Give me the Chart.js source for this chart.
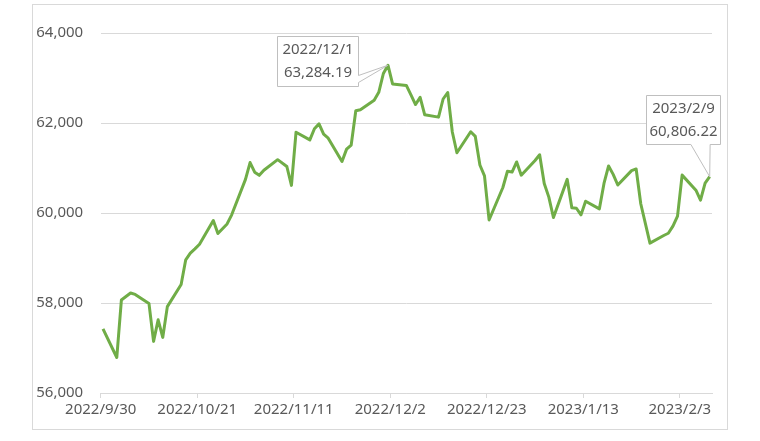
<!DOCTYPE html>
<html>
<head>
<meta charset="utf-8">
<script src="https://cdn.jsdelivr.net/npm/chart.js@4"></script>
<style>
  html, body { margin: 0; padding: 0; background: #fff; }
</style>
</head>
<body>
<canvas id="myChart" width="760" height="441"></canvas>
<script>
// daily closes
const dates = [
  '2022/9/30',
  '2022/10/3', '2022/10/4', '2022/10/6', '2022/10/7', '2022/10/10', '2022/10/11', '2022/10/12', '2022/10/13', '2022/10/14',
  '2022/10/17', '2022/10/18', '2022/10/19', '2022/10/20', '2022/10/21', '2022/10/24', '2022/10/25', '2022/10/27', '2022/10/28', '2022/10/31',
  '2022/11/1', '2022/11/2', '2022/11/3', '2022/11/4', '2022/11/7', '2022/11/9', '2022/11/10', '2022/11/11', '2022/11/14', '2022/11/15',
  '2022/11/16', '2022/11/17', '2022/11/18', '2022/11/21', '2022/11/22', '2022/11/23', '2022/11/24', '2022/11/25', '2022/11/28', '2022/11/29', '2022/11/30',
  '2022/12/1', '2022/12/2', '2022/12/5', '2022/12/6', '2022/12/7', '2022/12/8', '2022/12/9', '2022/12/12', '2022/12/13', '2022/12/14',
  '2022/12/15', '2022/12/16', '2022/12/19', '2022/12/20', '2022/12/21', '2022/12/22', '2022/12/23', '2022/12/26', '2022/12/27', '2022/12/28',
  '2022/12/29', '2022/12/30',
  '2023/1/2', '2023/1/3', '2023/1/4', '2023/1/5', '2023/1/6', '2023/1/9', '2023/1/10', '2023/1/11', '2023/1/12', '2023/1/13',
  '2023/1/16', '2023/1/17', '2023/1/18', '2023/1/19', '2023/1/20', '2023/1/23', '2023/1/24', '2023/1/25', '2023/1/27', '2023/1/30', '2023/1/31',
  '2023/2/1', '2023/2/2', '2023/2/3', '2023/2/6', '2023/2/7', '2023/2/8', '2023/2/9'
];

const closes = [
  57426.92,
  56788.81, 58065.47, 58222.10, 58191.29, 57991.11, 57147.32, 57625.91, 57235.33, 57919.97,
  58410.98, 58960.60, 59107.19, 59202.90, 59307.15, 59831.66, 59543.96, 59756.84, 59959.85, 60746.59,
  61121.35, 60906.09, 60836.41, 60950.36, 61185.15, 61033.55, 60613.70, 61795.04, 61624.15, 61872.99,
  61980.72, 61750.60, 61663.48, 61144.84, 61418.96, 61510.58, 62272.68, 62293.64, 62504.80, 62681.84, 63099.65,
  63284.19, 62868.50, 62834.60, 62626.36, 62410.68, 62570.68, 62181.67, 62130.57, 62533.30, 62677.91,
  61799.03, 61337.81, 61806.19, 61702.29, 61067.24, 60826.22, 59845.29, 60566.42, 60927.43, 60910.28,
  61133.88, 60840.74,
  61167.79, 61294.20, 60657.45, 60353.27, 59900.37, 60747.31, 60115.48, 60105.50, 59958.03, 60261.18,
  60092.97, 60655.72, 61045.74, 60858.43, 60621.77, 60941.67, 60978.75, 60205.06, 59330.90, 59500.41, 59549.90,
  59708.08, 59932.24, 60841.88, 60506.90, 60286.04, 60663.79, 60806.22
];

const tickLabels = ['2022/9/30', '2022/10/21', '2022/11/11', '2022/12/2', '2022/12/23', '2023/1/13', '2023/2/3'];

const calloutDates = ['2022/12/1', '2023/2/9'];

const fontFamily = 'Noto Sans';
const textColor = '#595959';
const lineColor = '#d9d9d9';

function dayNo(s) {
  const p = s.split('/');
  const p0 = dates[0].split('/');
  return Math.round((Date.UTC(+p[0], p[1] - 1, +p[2]) - Date.UTC(+p0[0], p0[1] - 1, +p0[2])) / 86400000);
}

// points sit in the middle of their day
const points = dates.map((d, i) => ({ x: dayNo(d) + 0.5, y: closes[i] }));

// box placement relative to the point
const calloutBoxes = [
  { dx: -111, dy: -29.5, w: 81, h: 50, side: 'right', a: 0.78, b: 0.92 },
  { dx: -64, dy: -81.5, w: 74, h: 49, side: 'bottom', a: 0.6, b: 0.86 }
];

const background = {
  id: 'background',
  beforeDraw(chart) {
    const ctx = chart.ctx;
    ctx.save();
    ctx.fillStyle = '#fff';
    ctx.fillRect(0, 0, chart.width, chart.height);
    ctx.strokeStyle = lineColor;
    ctx.lineWidth = 1;
    ctx.strokeRect(32.5, 4.5, 695, 425);
    ctx.restore();
  }
};

const callouts = {
  id: 'callouts',
  afterDraw(chart) {
    const ctx = chart.ctx;
    const xs = chart.scales.x, ys = chart.scales.y;
    calloutDates.forEach((d, k) => {
      const i = dates.indexOf(d);
      const px = xs.getPixelForValue(points[i].x);
      const py = ys.getPixelForValue(points[i].y);
      const c = calloutBoxes[k];
      const l = Math.round(px + c.dx) + 0.5, t = Math.round(py + c.dy) + 0.5;
      const r = l + c.w, b = t + c.h;
      ctx.save();
      ctx.beginPath();
      ctx.moveTo(l, t);
      ctx.lineTo(r, t);
      if (c.side === 'right') {
        ctx.lineTo(r, t + c.h * c.a);
        ctx.lineTo(px, py);
        ctx.lineTo(r, t + c.h * c.b);
        ctx.lineTo(r, b);
        ctx.lineTo(l, b);
      } else {
        ctx.lineTo(r, b);
        ctx.lineTo(l + c.w * c.b, b);
        ctx.lineTo(px, py);
        ctx.lineTo(l + c.w * c.a, b);
        ctx.lineTo(l, b);
      }
      ctx.closePath();
      ctx.fillStyle = '#fff';
      ctx.fill();
      ctx.strokeStyle = '#bfbfbf';
      ctx.lineWidth = 1;
      ctx.stroke();
      ctx.fillStyle = textColor;
      ctx.font = '15px "' + fontFamily + '"';
      ctx.textAlign = 'center';
      ctx.textBaseline = 'middle';
      const cx = l + c.w / 2;
      ctx.fillText(d, cx, t + c.h * 0.27);
      ctx.fillText(closes[i].toLocaleString('en-US', { minimumFractionDigits: 2 }), cx, t + c.h * 0.73);
      ctx.restore();
    });
  }
};

const ctx = document.querySelector('#myChart').getContext('2d');

const myChart = new Chart(ctx, {
  type: 'line',
  data: {
    datasets: [{
      data: points,
      borderColor: '#70ad47',
      borderWidth: 3,
      pointRadius: 0,
      tension: 0,
      borderJoinStyle: 'round'
    }]
  },
  options: {
    responsive: false,
    animation: false,
    devicePixelRatio: 1,
    layout: { padding: { left: 0, top: 33, right: 48, bottom: 0 } },
    plugins: { legend: { display: false }, tooltip: { enabled: false } },
    scales: {
      x: {
        type: 'linear',
        min: 0,
        max: dayNo(dates[dates.length - 1]) + 1,
        afterBuildTicks: (s) => { s.ticks = tickLabels.map(t => ({ value: dayNo(t) })); },
        afterFit: (s) => { s.height = 48; },
        ticks: {
          autoSkip: false,
          maxRotation: 0,
          padding: 3,
          color: textColor,
          font: { family: fontFamily, size: 15 },
          callback: (v) => tickLabels.find(t => dayNo(t) === v) || ''
        },
        grid: { drawOnChartArea: false, color: lineColor, tickLength: 5 },
        border: { color: lineColor }
      },
      y: {
        min: 56000,
        max: 64000,
        afterFit: (s) => { s.width = 100.7; },
        ticks: {
          stepSize: 2000,
          padding: 17.5,
          color: textColor,
          font: { family: fontFamily, size: 15 },
          callback: (v) => v.toLocaleString('en-US')
        },
        grid: { color: lineColor, drawTicks: false },
        border: { display: false }
      }
    }
  },
  plugins: [background, callouts]
});
</script>
</body>
</html>
